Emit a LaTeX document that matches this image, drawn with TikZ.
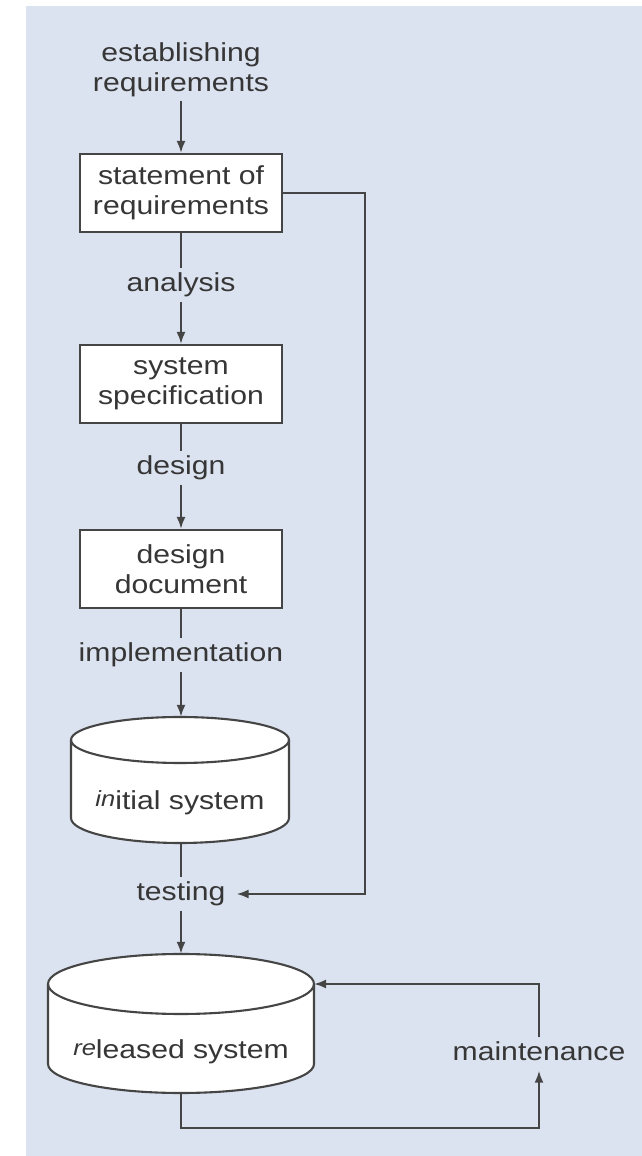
\documentclass[tikz,border=0pt]{standalone}
\usepackage{fontspec}
\setmainfont{Liberation Sans}[FakeStretch=1.16]
\usetikzlibrary{arrows.meta}
\definecolor{bgblue}{HTML}{DCE3F0}
\definecolor{ink}{HTML}{363636}
\definecolor{linegray}{HTML}{454545}
\begin{document}
\begin{tikzpicture}[x=1pt,y=1pt,
  txt/.style={font=\fontsize{26}{30}\selectfont, text=ink, align=center},
  lbl/.style={txt, text height=19pt, text depth=6pt, inner xsep=4pt, inner ysep=4pt},
  stepbox/.style={txt, draw=linegray, fill=white, line width=2.1pt, minimum width=202pt, minimum height=78pt, inner sep=0pt},
  conn/.style={draw=linegray, line width=2.1pt},
  arr/.style={conn, -{Latex[length=12pt,width=9pt]}},
  cyl/.style={draw=linegray, fill=white, line width=2.1pt},
  cyltext/.style={txt, inner sep=0pt}]
% background
\fill[white] (0,0) rectangle (642,1156);
\fill[bgblue] (26,0) rectangle (642,1150);
\useasboundingbox (0,0) rectangle (642,1156);
% cylinder shapes
\path[cyl] (71,416) -- (71,338) arc[start angle=180,end angle=360,x radius=109,y radius=25]
  -- (289,416) arc[start angle=0,end angle=180,x radius=109,y radius=23] -- cycle;
\draw[conn] (71,416) arc[start angle=180,end angle=360,x radius=109,y radius=23];
\path[cyl] (48,172) -- (48,92) arc[start angle=180,end angle=360,x radius=133,y radius=29]
  -- (314,172) arc[start angle=0,end angle=180,x radius=133,y radius=30] -- cycle;
\draw[conn] (48,172) arc[start angle=180,end angle=360,x radius=133,y radius=30];
% nodes
\node[txt] (est) at (181,1086) {establishing\\requirements};
\node[stepbox] (sor) at (181,963) {statement of\\requirements};
\node[lbl] (ana) at (181,871) {analysis};
\node[stepbox] (spec) at (181,772) {system\\specification};
\node[lbl] (des) at (181,688) {design};
\node[stepbox] (doc) at (181,587) {design\\document};
\node[lbl] (impl) at (181,501) {implementation};
\node[cyltext, minimum width=218pt, minimum height=126pt, text height=66pt, text depth=6pt] (init) at (180,376)
  {\raisebox{3pt}{\itshape\fontsize{22}{22}\selectfont in}itial system};
\node[lbl] (test) at (181,262) {testing};
\node[cyltext, minimum width=266pt, minimum height=139pt, text height=77pt, text depth=6pt] (rel) at (181,132.5)
  {\raisebox{3pt}{\itshape\fontsize{22}{22}\selectfont re}leased system};
\node[lbl] (mnt) at (539,102) {maintenance};
\coordinate (c1) at (365,963);
\coordinate (c2) at (539,28);
\coordinate (relrim) at (314,172);
% connectors
\draw[arr] (est.south) -- (sor.north);
\draw[conn] (sor.south) -- (ana.north);
\draw[arr] (ana.south) -- (spec.north);
\draw[conn] (spec.south) -- (des.north);
\draw[arr] (des.south) -- (doc.north);
\draw[conn] (doc.south) -- (impl.north);
\draw[arr] (impl.south) -- (impl.south |- init.north);
\draw[conn] (test.north |- init.south) -- (test.north);
\draw[arr] (test.south) -- (test.south |- rel.north);
\draw[arr] (sor.east) -- (c1) |- ([xshift=7pt]test.east);
\draw[arr] (rel.south) |- (c2) -- (c2 |- mnt.south);
\draw[arr] (mnt.north) |- (relrim);
\end{tikzpicture}
\end{document}
